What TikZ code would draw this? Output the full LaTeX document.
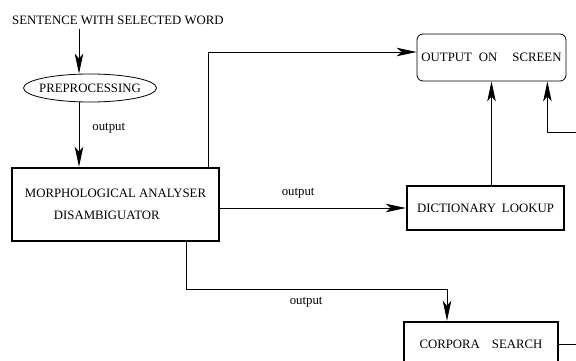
\documentclass[tikz,border=0pt]{standalone}
\usepackage{fontspec}
\setmainfont{Liberation Serif}
\usetikzlibrary{arrows.meta,shapes.geometric}

\begin{document}
\begin{tikzpicture}[x=1pt, y=-1pt,
	every node/.style = {font=\fontsize{12.8}{22}\selectfont, inner sep=0pt},
	box/.style = {shape=rectangle, draw, line width=2.5pt},
	arr/.style = {-{Stealth[length=20pt,width=8.5pt,inset=5pt]}, line width=0.8pt}]
	\useasboundingbox (0,0) rectangle (576,361);
	\clip (0,0) rectangle (576,361);
	\node[anchor=west, inner sep=4pt] (sentence) at (8,20) {SENTENCE WITH SELECTED WORD};
	\coordinate (col) at (79,0);
	\node[ellipse, draw, line width=0.8pt, inner xsep=-4.5pt, minimum width=133, minimum height=28] (prep) at (90,88) {PREPROCESSING};
	\node[box, minimum width=207, minimum height=73, align=left] (morph) at (115.5,204.5)
		{MORPHOLOGICAL ANALYSER\\\hspace*{29pt}DISAMBIGUATOR};
	\node[draw, rounded corners=6pt, line width=0.8pt, minimum width=149, minimum height=47, text depth=-3pt] (out) at (491.5,57.5)
		{OUTPUT\hspace{7pt}ON\hspace{15pt}SCREEN};
	\node[box, minimum width=157, minimum height=44] (dict) at (485.5,208) {DICTIONARY\hspace{6pt}LOOKUP};
	\node[box, minimum width=154, minimum height=44] (corp) at (481,344) {CORPORA\hspace{12pt}SEARCH};
	\coordinate (edge) at (580,132);
	% connectors
	\draw[arr] (sentence.south -| col) -- (prep.north -| col);
	\draw[arr] (prep.south -| col) -- node[pos=0.4, anchor=west, xshift=13pt] {output} (morph.north -| col);
	\draw[arr] ([xshift=-12pt]morph.north east) |- ([yshift=5.5pt]out.west);
	\draw[arr] (morph.east |- dict.west) -- node[pos=0.42, yshift=15pt] {output} (dict.west);
	\draw[arr] (dict.north -| out.south) -- (out.south);
	\draw[arr] ([xshift=-34pt]morph.south east) -- ++(0,47) -| node[pos=0.23, yshift=-13pt] {output} ([xshift=-34pt]corp.north);
	\draw[arr] (corp.east) -| (edge) -| ([xshift=-19pt]out.south east);
\end{tikzpicture}
\end{document}
